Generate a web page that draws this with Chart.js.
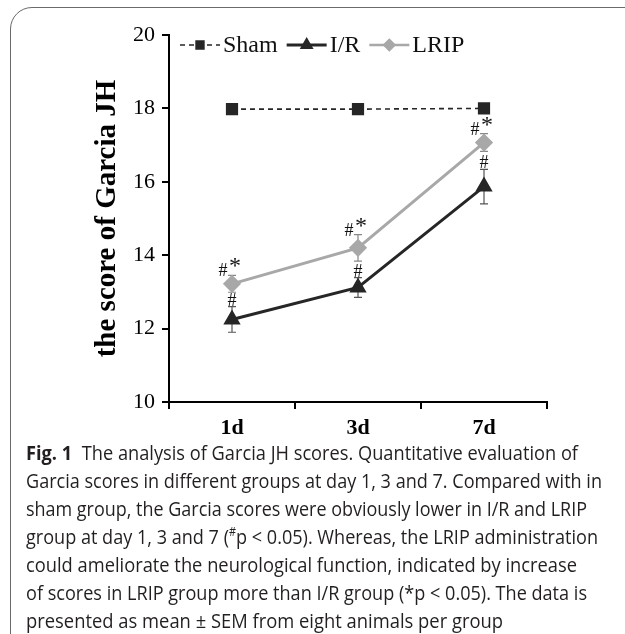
<!DOCTYPE html>
<html><head><meta charset="utf-8">
<script src="https://cdn.jsdelivr.net/npm/chart.js@4.4.0/dist/chart.umd.min.js"></script>
<style>
html,body{margin:0;padding:0;background:#fff;width:625px;height:634px;overflow:hidden;}
#frame{position:absolute;left:10px;top:7px;width:700px;height:700px;border:1.5px solid #6a6a6a;border-radius:22px;box-sizing:border-box;}
#wrap{position:absolute;left:0;top:0;width:625px;height:440px;}
#caption{position:absolute;left:26px;top:439px;font-family:"Open Sans";font-size:20px;color:#231f20;line-height:28px;}
#caption div{white-space:nowrap;height:28px;}
#caption span.ln{display:inline-block;white-space:nowrap;transform-origin:0 0;}
</style></head>
<body>
<div id="frame"></div>
<div id="wrap"><canvas id="c"></canvas></div>
<div id="caption">
<div><span class="ln" data-w="552"><b>Fig. 1</b>&nbsp; The analysis of Garcia JH scores. Quantitative evaluation of</span></div>
<div><span class="ln" data-w="576">Garcia scores in different groups at day 1, 3 and 7. Compared with in</span></div>
<div><span class="ln" data-w="561">sham group, the Garcia scores were obviously lower in I/R and LRIP</span></div>
<div><span class="ln" data-w="572">group at day 1, 3 and 7 (<sup style="font-size:12px;line-height:0">#</sup>p &lt; 0.05). Whereas, the LRIP administration</span></div>
<div><span class="ln" data-w="551">could ameliorate the neurological function, indicated by increase</span></div>
<div><span class="ln" data-w="561">of scores in LRIP group more than I/R group (*p &lt; 0.05). The data is</span></div>
<div><span class="ln" data-w="477">presented as mean ± SEM from eight animals per group</span></div>
</div>
<script>
const categories = ['1d', '3d', '7d'];
const shamValues = [17.98, 17.98, 18.0];
const irValues = [12.25, 13.12, 15.87];
const irErrors = [0.35, 0.27, 0.47];
const lripValues = [13.22, 14.2, 17.07];
const lripErrors = [0.23, 0.36, 0.24];
const irMarks = ['#', '#', '#'];
const lripMarks = ['#*', '#*', '#*'];
const yTicks = [10, 12, 14, 16, 18, 20];

// fit caption lines to reference widths
document.querySelectorAll('#caption span.ln').forEach(d => {
  const w = d.getBoundingClientRect().width;
  const target = +d.dataset.w;
  d.style.transform = 'scaleX(' + (target / w) + ')';
});

const SERIF = '"Liberation Serif", "Times New Roman", serif';

const errorBarPlugin = {
  id: 'errorBars',
  beforeDatasetsDraw(chart) {
    const ctx = chart.ctx;
    const y = chart.scales.y;
    chart.data.datasets.forEach((ds, i) => {
      if (!ds.errors) return;
      const meta = chart.getDatasetMeta(i);
      ctx.save();
      ctx.strokeStyle = ds.errorColor;
      ctx.lineWidth = 1.2;
      meta.data.forEach((pt, j) => {
        const v = ds.data[j], e = ds.errors[j];
        const yt = y.getPixelForValue(v + e), yb = y.getPixelForValue(v - e);
        ctx.beginPath();
        ctx.moveTo(pt.x, yt); ctx.lineTo(pt.x, yb);
        ctx.moveTo(pt.x - 4, yt); ctx.lineTo(pt.x + 4, yt);
        ctx.moveTo(pt.x - 4, yb); ctx.lineTo(pt.x + 4, yb);
        ctx.stroke();
      });
      ctx.restore();
    });
  },
  afterDatasetsDraw(chart) {
    const ctx = chart.ctx;
    const y = chart.scales.y;
    chart.data.datasets.forEach((ds, i) => {
      if (!ds.marks) return;
      const meta = chart.getDatasetMeta(i);
      ctx.save();
      ctx.fillStyle = '#111';
      ctx.textBaseline = 'alphabetic';
      ctx.textAlign = 'center';
      meta.data.forEach((pt, j) => {
        const m = ds.marks[j];
        const top = y.getPixelForValue(ds.data[j] + ds.errors[j]);
        ctx.font = '18px ' + SERIF;
        if (m === '#') {
          ctx.fillText('#', pt.x, top - 1);
        } else {
          ctx.fillText('#', pt.x - 9, top + 1);
          ctx.font = '24px ' + SERIF;
          ctx.fillText('*', pt.x + 3, top - 2);
        }
      });
      ctx.restore();
    });
  }
};

const legendPlugin = {
  id: 'customLegend',
  afterDraw(chart) {
    const ctx = chart.ctx;
    let x = chart.chartArea.left + 11;
    const cy = chart.chartArea.top + 10;
    ctx.save();
    ctx.font = '24px ' + SERIF;
    ctx.textBaseline = 'middle';
    chart.data.datasets.forEach(ds => {
      const len = 40;
      ctx.strokeStyle = ds.borderColor;
      ctx.lineWidth = ds.legendLineWidth;
      ctx.setLineDash(ds.borderDash || []);
      ctx.beginPath(); ctx.moveTo(x, cy); ctx.lineTo(x + len, cy); ctx.stroke();
      ctx.setLineDash([]);
      ctx.fillStyle = ds.pointBackgroundColor;
      ctx.strokeStyle = ds.pointBorderColor;
      Chart.helpers.drawPoint(ctx, {pointStyle: ds.pointStyle, radius: ds.legendRadius, borderWidth: 1, rotation: 0}, x + len / 2, cy);
      ctx.fillStyle = '#111';
      ctx.textAlign = 'left';
      ctx.fillText(ds.label, x + len + 3, cy + 1);
      x += len + 3 + ctx.measureText(ds.label).width + 9;
    });
    ctx.restore();
  }
};

new Chart(document.getElementById('c'), {
  type: 'line',
  data: {
    labels: categories,
    datasets: [
      {label: 'Sham', data: shamValues, borderColor: '#262626', borderWidth: 1.6, borderDash: [5, 4],
       pointStyle: 'rect', pointRadius: 7.5, pointBackgroundColor: '#262626', pointBorderColor: '#262626',
       legendLineWidth: 1.6, legendRadius: 5.5},
      {label: 'I/R', data: irValues, errors: irErrors, marks: irMarks, errorColor: '#555',
       borderColor: '#262626', borderWidth: 3, pointStyle: 'triangle', pointRadius: 7,
       pointBackgroundColor: '#262626', pointBorderColor: '#262626', legendLineWidth: 3, legendRadius: 5},
      {label: 'LRIP', data: lripValues, errors: lripErrors, marks: lripMarks, errorColor: '#888',
       borderColor: '#a8a8a8', borderWidth: 3, pointStyle: 'rectRot', pointRadius: 7,
       pointBackgroundColor: '#a8a8a8', pointBorderColor: '#a8a8a8', legendLineWidth: 2.5, legendRadius: 5}
    ]
  },
  options: {
    responsive: true,
    maintainAspectRatio: false,
    animation: false,
    layout: {padding: {left: 0, right: 78, top: 35, bottom: 0}},
    plugins: {legend: {display: false}, tooltip: {enabled: false}},
    elements: {line: {tension: 0}},
    scales: {
      x: {
        offset: true,
        grid: {offset: true, drawOnChartArea: false, drawTicks: true, tickLength: 7, color: '#000', lineWidth: 2},
        border: {color: '#000', width: 2},
        ticks: {color: '#000', font: {family: SERIF, size: 22, weight: 'bold'}, padding: 6},
        afterFit(s) { s.height = 38; }
      },
      y: {
        min: 10, max: 20,
        afterBuildTicks(s) { s.ticks = yTicks.map(v => ({value: v})); },
        grid: {drawOnChartArea: false, drawTicks: true, tickLength: 7, color: '#000', lineWidth: 2},
        border: {color: '#000', width: 2},
        ticks: {color: '#000', font: {family: SERIF, size: 22}, padding: 7},
        title: {display: true, text: 'the score of Garcia JH', color: '#000',
                font: {family: SERIF, size: 29, weight: 'bold'}, padding: {top: 90, bottom: 0}},
        afterFit(s) { s.width = 169; }
      }
    }
  },
  plugins: [errorBarPlugin, legendPlugin]
});
</script>
</body></html>
